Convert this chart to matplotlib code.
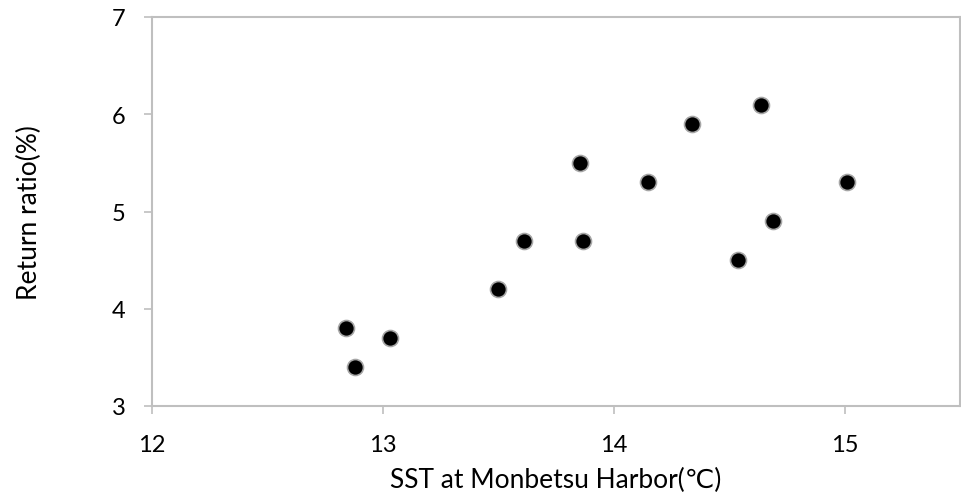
import matplotlib
matplotlib.use('Agg')
import matplotlib.pyplot as plt

sst = [12.84, 12.88, 13.03, 13.50, 13.61, 13.855, 13.865, 14.15, 14.34, 14.54, 14.64, 14.69, 15.01]
ratio = [3.8, 3.4, 3.7, 4.2, 4.7, 5.5, 4.7, 5.3, 5.9, 4.5, 6.1, 4.9, 5.3]
xticks = [12, 13, 14, 15]
yticks = [3, 4, 5, 6, 7]

plt.rcParams['font.family'] = ['Lato', 'DejaVu Sans']

fig = plt.figure(figsize=(9.61, 5.02), dpi=100)
ax = fig.add_axes([152 / 961, 1 - 407 / 502, 808 / 961, 389 / 502])

ax.plot(sst, ratio, 'o', color='black', markersize=11.5,
        markeredgecolor='#a6a6a6', markeredgewidth=1.2, clip_on=False)

ax.set_xlim(12, 15.5)
ax.set_ylim(3, 7)
ax.set_xticks(xticks)
ax.set_yticks(yticks)
for s in ax.spines.values():
    s.set_color('#bfbfbf')
    s.set_linewidth(1.5)
ax.tick_params(colors='#bfbfbf', width=1.2, length=6, labelcolor='black',
               labelsize=17)
ax.tick_params(axis='x', pad=14)
ax.tick_params(axis='y', pad=13)

ax.set_xlabel('SST at Monbetsu Harbor(\u2103)', fontsize=19, labelpad=9)
ax.set_ylabel('Return ratio(%)', fontsize=19, labelpad=50)

plt.savefig('out.png', dpi=100)
